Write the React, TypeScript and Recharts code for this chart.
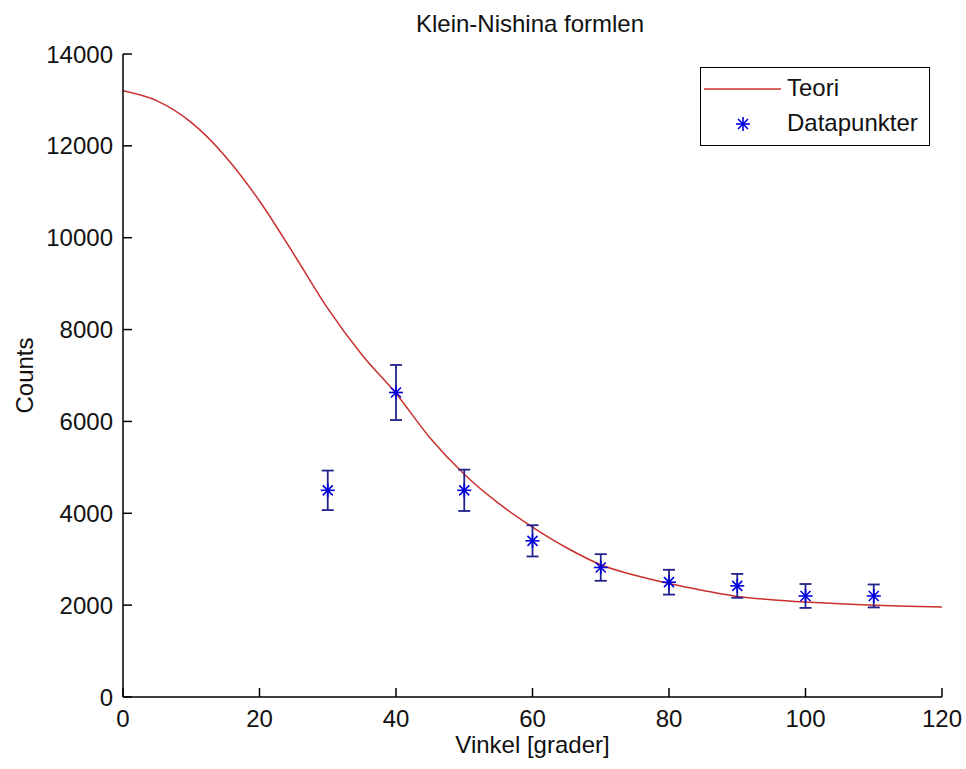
import { ComposedChart, Line, Scatter, ErrorBar, XAxis, YAxis, Legend } from 'recharts';

// Theory curve, read every 5 degrees
const angles = [0, 5, 10, 15, 20, 25, 30, 35, 40, 45, 50, 55, 60, 65, 70, 75, 80, 85, 90, 95, 100, 105, 110, 115, 120];
const theoryCounts = [13200, 12980, 12510, 11770, 10800, 9650, 8460, 7450, 6610, 5640, 4850, 4220, 3700, 3250, 2880, 2650, 2470, 2320, 2190, 2120, 2070, 2030, 2000, 1975, 1960];

// Measured points with error bars
const dataAngles = [30, 40, 50, 60, 70, 80, 90, 100, 110];
const dataCounts = [4500, 6630, 4500, 3400, 2820, 2500, 2420, 2200, 2200];
const dataErrors = [430, 600, 450, 340, 290, 270, 260, 260, 250];

const xTicks = [0, 20, 40, 60, 80, 100, 120];
const yTicks = [0, 2000, 4000, 6000, 8000, 10000, 12000, 14000];

const theory = angles.map((x, i) => ({ x, theory: theoryCounts[i] }));
const points = dataAngles.map((x, i) => ({ x, counts: dataCounts[i], err: dataErrors[i] }));

const FONT = '"Liberation Sans", Arial, sans-serif';
const FS = 24;
const INK = '#111';
const RED = '#c8302c';
const BLUE = '#0000dd';
const NAVY = '#22228a';

const XTick = ({ x, y, payload }: any) => (
  <g>
    <line x1={x} y1={y} x2={x} y2={y - 9} stroke="#000" strokeWidth={1.5} />
    <text x={x} y={y + 30} textAnchor="middle" fontSize={FS} fill={INK} fontFamily={FONT}>
      {payload.value}
    </text>
  </g>
);

const YTick = ({ x, y, payload }: any) => (
  <g>
    <line x1={x} y1={y} x2={x + 9} y2={y} stroke="#000" strokeWidth={1.5} />
    <text x={x - 10} y={y + 8.5} textAnchor="end" fontSize={FS} fill={INK} fontFamily={FONT}>
      {payload.value}
    </text>
  </g>
);

const Star = ({ cx, cy }: any) => {
  if (cx == null || cy == null) return null;
  const r = 7;
  const d = 5;
  return (
    <g stroke={BLUE} strokeWidth={1.6}>
      <line x1={cx - r} y1={cy} x2={cx + r} y2={cy} />
      <line x1={cx} y1={cy - r} x2={cx} y2={cy + r} />
      <line x1={cx - d} y1={cy - d} x2={cx + d} y2={cy + d} />
      <line x1={cx - d} y1={cy + d} x2={cx + d} y2={cy - d} />
    </g>
  );
};

const LegendBox = () => (
  <div
    style={{
      width: 228, height: 77, border: '1px solid #000', background: '#fff',
      fontFamily: FONT, fontSize: FS, color: INK, position: 'relative',
    }}
  >
    <svg width={90} height={77} style={{ position: 'absolute', left: 0, top: 0 }}>
      <line x1={3} y1={21} x2={80} y2={21} stroke={RED} strokeWidth={1.5} />
      <Star cx={42} cy={56} />
    </svg>
    <div style={{ position: 'absolute', left: 86, top: 6, lineHeight: '28px' }}>Teori</div>
    <div style={{ position: 'absolute', left: 86, top: 41, lineHeight: '28px' }}>Datapunkter</div>
  </div>
);

export default function App() {
  return (
    <div style={{ position: 'absolute', left: 0, top: 0, width: 966, height: 769, background: '#fff' }}>
      <div
        style={{
          position: 'absolute', left: 0, width: 1060, top: 10, textAlign: 'center',
          fontFamily: FONT, fontSize: FS, color: INK, lineHeight: '28px',
        }}
      >
        Klein-Nishina formlen
      </div>
      <ComposedChart
        width={966}
        height={769}
        data={theory}
        margin={{ top: 54, right: 24, bottom: 12, left: 10 }}
      >
        <XAxis
          dataKey="x"
          type="number"
          domain={[0, 120]}
          ticks={xTicks}
          allowDataOverflow
          height={60}
          axisLine={{ stroke: '#000', strokeWidth: 1.5 }}
          tickLine={false}
          tickSize={0}
          tickMargin={0}
          tick={<XTick />}
          label={{ value: 'Vinkel [grader]', position: 'insideBottom', offset: 4, fontSize: FS, fill: INK, fontFamily: FONT }}
        />
        <YAxis
          type="number"
          domain={[0, 14000]}
          ticks={yTicks}
          allowDataOverflow
          width={113}
          axisLine={{ stroke: '#000', strokeWidth: 1.5 }}
          tickLine={false}
          tickSize={0}
          tickMargin={0}
          tick={<YTick />}
          label={{
            value: 'Counts', angle: -90, position: 'insideLeft', offset: 14,
            fontSize: FS, fill: INK, fontFamily: FONT, style: { textAnchor: 'middle' },
          }}
        />
        <Legend
          layout="horizontal"
          align="center"
          verticalAlign="middle"
          content={<LegendBox />}
          wrapperStyle={{ position: 'absolute', left: 700, top: 67, width: 230, height: 79 }}
        />
        <Line
          type="monotone"
          dataKey="theory"
          name="Teori"
          stroke={RED}
          strokeWidth={1.5}
          dot={false}
          activeDot={false}
          isAnimationActive={false}
        />
        <Scatter
          data={points}
          dataKey="counts"
          name="Datapunkter"
          shape={<Star />}
          isAnimationActive={false}
        >
          <ErrorBar dataKey="err" direction="y" width={6} stroke={NAVY} strokeWidth={1.8} isAnimationActive={false} />
        </Scatter>
      </ComposedChart>
    </div>
  );
}
